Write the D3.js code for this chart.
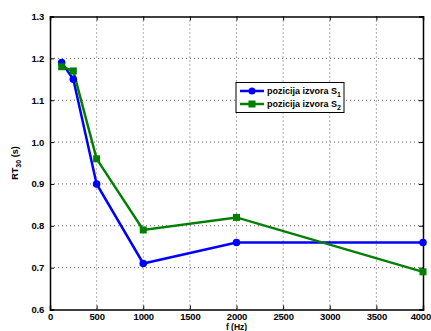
<!DOCTYPE html>
<html><head><meta charset="utf-8">
<script src="https://cdn.jsdelivr.net/npm/d3@7"></script>
<style>body{margin:0;background:#fff}svg{display:block}text{font-family:"Liberation Sans",Arial,sans-serif;font-weight:bold}</style>
</head><body>
<script>
const freqs = [125, 250, 500, 1000, 2000, 4000];
const s1 = [1.19, 1.15, 0.90, 0.71, 0.76, 0.76];
const s2 = [1.18, 1.17, 0.96, 0.79, 0.82, 0.69];
const xTicks = [0, 500, 1000, 1500, 2000, 2500, 3000, 3500, 4000];
const yTicks = [0.6, 0.7, 0.8, 0.9, 1.0, 1.1, 1.2, 1.3];
const seriesNames = ["pozicija izvora S", "pozicija izvora S"];
const seriesSubs = ["1", "2"];
const colors = ["#0000ff", "#008000"];

const W = 431, H = 331;
const svg = d3.select("body").append("svg").attr("width", W).attr("height", H);
const x = d3.scaleLinear().domain([0, 4000]).range([50, 423]);
const y = d3.scaleLinear().domain([0.6, 1.3]).range([309.5, 16.5]);

// grid
const g = svg.append("g");
g.selectAll(".vg").data(xTicks.slice(1, -1)).enter().append("line")
  .attr("x1", d => x(d)).attr("x2", d => x(d)).attr("y1", y(1.3)).attr("y2", y(0.6))
  .attr("stroke", "#333").attr("stroke-width", 0.8).attr("stroke-dasharray", "1,3");
g.selectAll(".hg").data(yTicks.slice(1, -1)).enter().append("line")
  .attr("y1", d => y(d)).attr("y2", d => y(d)).attr("x1", x(0)).attr("x2", x(4000))
  .attr("stroke", "#333").attr("stroke-width", 0.8).attr("stroke-dasharray", "1,3");

// axes
const xa = svg.append("g").attr("transform", `translate(0,${y(0.6)})`)
  .call(d3.axisBottom(x).tickValues(xTicks).tickSize(-4).tickPadding(4).tickFormat(d3.format("d")));
const xt = svg.append("g").attr("transform", `translate(0,${y(1.3)})`)
  .call(d3.axisTop(x).tickValues(xTicks).tickSize(-4).tickFormat(""));
const ya = svg.append("g").attr("transform", `translate(${x(0)},0)`)
  .call(d3.axisLeft(y).tickValues(yTicks).tickSize(-4).tickPadding(6).tickFormat(d3.format(".1f")));
const yr = svg.append("g").attr("transform", `translate(${x(4000)},0)`)
  .call(d3.axisRight(y).tickValues(yTicks).tickSize(-4).tickFormat(""));
[xa, xt, ya, yr].forEach(a => {
  a.selectAll("path").attr("stroke", "#000").attr("stroke-width", 1.5);
  a.selectAll("line").attr("stroke", "#000");
  a.selectAll("text").attr("font-size", 9.5).attr("fill", "#000").attr("letter-spacing", -0.2);
});
// keep the last x tick label inside the window
xa.selectAll(".tick text").filter(d => d === 4000).attr("text-anchor", "end").attr("x", 7.5);

// series
const line = d3.line().x((d, i) => x(freqs[i])).y(d => y(d));
[s1, s2].forEach((s, k) => {
  svg.append("path").datum(s).attr("d", line).attr("fill", "none")
    .attr("stroke", colors[k]).attr("stroke-width", 2.5);
});
svg.selectAll(".c1").data(s1).enter().append("circle")
  .attr("cx", (d, i) => x(freqs[i])).attr("cy", d => y(d)).attr("r", 3.8).attr("fill", colors[0]);
svg.selectAll(".q2").data(s2).enter().append("rect")
  .attr("x", (d, i) => x(freqs[i]) - 3.5).attr("y", d => y(d) - 3.5)
  .attr("width", 7).attr("height", 7).attr("fill", colors[1]);

// legend
const lg = svg.append("g");
lg.append("rect").attr("x", 236).attr("y", 82.5).attr("width", 108).attr("height", 30)
  .attr("fill", "#fff").attr("stroke", "#000").attr("stroke-width", 1);
seriesNames.forEach((n, k) => {
  const yy = 91 + k * 13;
  lg.append("line").attr("x1", 240).attr("x2", 264).attr("y1", yy).attr("y2", yy)
    .attr("stroke", colors[k]).attr("stroke-width", 2.5);
  if (k === 0) lg.append("circle").attr("cx", 252).attr("cy", yy).attr("r", 3.5).attr("fill", colors[k]);
  else lg.append("rect").attr("x", 248.5).attr("y", yy - 3.5).attr("width", 7).attr("height", 7).attr("fill", colors[k]);
  const t = lg.append("text").attr("x", 267).attr("y", yy + 3).attr("font-size", 9);
  t.append("tspan").text(n);
  t.append("tspan").attr("font-size", 7).attr("dy", 3).text(seriesSubs[k]);
});

// axis labels
svg.append("text").attr("x", (x(0) + x(4000)) / 2).attr("y", 330).attr("text-anchor", "middle")
  .attr("font-size", 8.5).text("f (Hz)");
const yl = svg.append("text").attr("transform", `translate(18,${(y(0.6) + y(1.3)) / 2}) rotate(-90)`)
  .attr("text-anchor", "middle").attr("font-size", 9);
yl.append("tspan").text("RT");
yl.append("tspan").attr("font-size", 7).attr("dy", 3).text("30");
yl.append("tspan").attr("dy", -3).text(" (s)");
</script>
</body></html>
